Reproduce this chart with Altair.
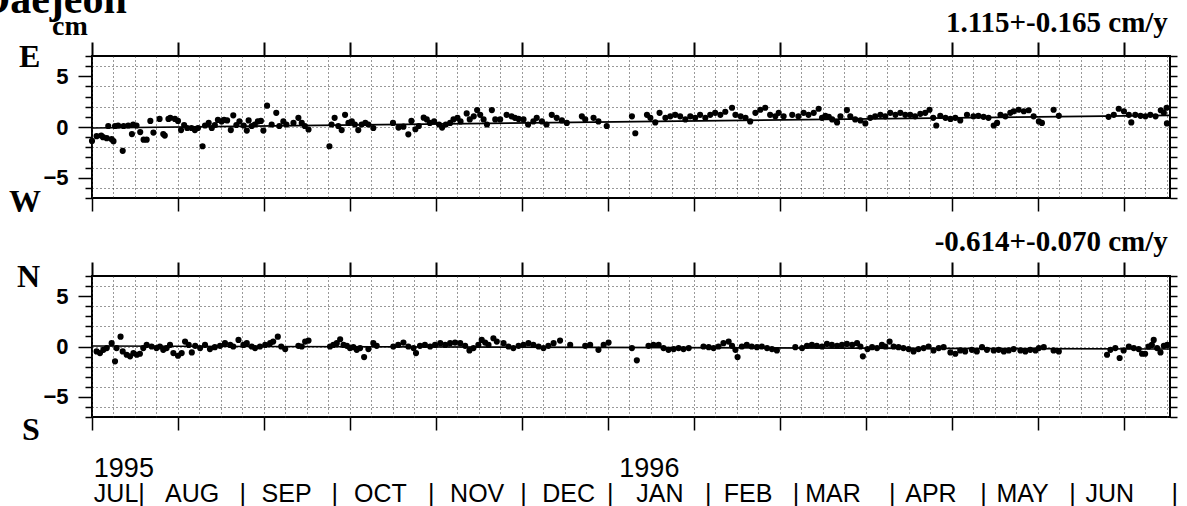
import altair as alt
import pandas as pd

# ---------------- data ----------------
# day = days since the left edge of the plot (mid July 1995)
days_e = [0, 1.5, 3, 3.6, 4.8, 5.3, 6.4, 7, 7.5, 8.5, 10, 10.3, 11.8, 13, 13.4, 14.5, 15.7, 16.8, 17.8, 19,
          20, 22, 23.2, 23.7, 24.9, 25.5, 27, 28, 29, 30, 31, 32.4, 33.5, 34.5, 36, 36.8, 38, 39, 40, 41,
          42.2, 43, 44, 45.2, 46, 47, 48, 49.4, 50.4, 51, 52, 53, 54, 55, 55.8, 57, 58.5, 60, 61, 62.3,
          63.3, 65.6, 67.2, 68.3, 69.3, 70.5, 77.3, 78, 79, 80.2, 81.3, 82.4, 83.5, 84.6, 85.6, 86.7, 87.8, 89, 90, 91.6,
          98, 99.8, 101.4, 103, 104, 105.3, 106.4, 108, 109, 110, 111.4, 113, 114, 115.2, 116.6, 117.7, 119, 120, 122, 123,
          124.3, 125.4, 126.4, 127.5, 128.6, 130.2, 131.3, 132.9, 135, 136.6, 137.7, 138.9, 140.5, 142, 143.7, 144.8, 146.5, 148, 149.7, 151.3,
          153, 154.6, 159.5, 160.6, 163.3, 164.9, 167.6, 175.8, 176.9, 180.7, 181.8, 183.4, 184.8, 186.7, 188.3, 189.9, 191.5, 193.2, 194.8, 196.4,
          198, 199.7, 201.3, 202.9, 204.6, 206.2, 208.4, 209.5, 211.2, 212.8, 214.3, 216, 217.6, 219.2, 220.8, 222.5, 223.6, 225.2, 228, 230,
          231.7, 233.3, 235, 236.6, 237.7, 238.8, 239.9, 241, 242.6, 243.7, 245.8, 246.9, 248.5, 250.2, 251.8, 253.4, 255, 256.7, 258.3, 259.9,
          261.6, 263.2, 264.8, 266.4, 268, 269.7, 271.3, 272.7, 273.9, 274.9, 276.2, 277.9, 279.5, 281.1, 282.7, 284.9, 287, 288.6, 290.3, 291.9,
          293.6, 294.7, 295.8, 297.4, 299, 300.1, 301.7, 303.4, 305, 306.6, 308.3, 309.3, 313.1, 314.8, 331, 332.7, 334.3, 336, 337.6, 338.4,
          339.7, 341.4, 343, 344.6, 346.3, 348, 349, 349.9, 350]
east = [-1.37, -0.9, -0.85, -1.0, -1.1, 0.1, -1.2, -1.4, 0.1, 0.15, -2.35, 0.1, 0.15, -0.7, 0.25, 0.15, -0.5, -1.25, -1.25, 0.6,
        -0.55, 0.8, -0.7, -0.85, 0.8, 0.9, 0.8, 0.6, -0.3, 0.2, -0.1, -0.1, -0.3, -0.1, -1.9, 0.15, 0.4, -0.1, 0.2, 0.7,
        0.55, 0.7, 0.65, -0.3, 1.15, 0.2, 0.55, 0.15, -0.35, 0.65, 0.1, 0.25, 0.55, 0.6, -0.35, 2.1, 0.25, 1.4, 0.1, 0.55,
        0.25, 0.4, 0.9, 0.4, 0.1, -0.25, -1.9, 0.25, 0.9, 0.1, -0.3, 1.2, 0.4, 0.55, 0.25, -0.3, 0.25, 0.4, 0.25, -0.1,
        0.4, -0.06, 0.03, -0.72, 0.6, -0.22, 0.1, 0.92, 0.75, 0.4, 0.55, 0.25, -0.06, 0.25, 0.4, 0.75, 0.9, 0.55, 1.34, 0.75,
        1.05, 1.67, 1.2, 0.75, 0.25, 1.67, 0.75, 0.75, 1.2, 1.05, 0.9, 0.8, 0.75, 0.25, 0.55, 0.9, 0.55, 0.25, 1.2, 0.9,
        0.65, 0.4, 1.05, 0.75, 0.9, 0.55, 0.1, 1.05, -0.62, 1.2, 0.9, 0.45, 1.4, 0.9, 1.05, 1.2, 1.05, 0.75, 1.05, 0.9,
        1.2, 0.9, 1.2, 1.4, 1.2, 1.5, 1.9, 1.2, 1.05, 0.9, 0.55, 1.4, 1.7, 1.9, 1.2, 1.05, 1.4, 1.05, 1.2, 1.05,
        1.4, 1.2, 1.4, 1.8, 0.9, 1.1, 1.0, 0.75, 0.45, 1.05, 1.67, 1.05, 0.75, 0.65, 0.35, 0.9, 1.05, 1.2, 1.05, 1.4,
        1.2, 1.4, 1.2, 1.2, 1.05, 1.3, 1.4, 1.7, 0.9, 0.15, 1.1, 0.9, 0.8, 0.9, 0.65, 1.2, 1.05, 1.1, 1.0, 0.9,
        0.15, 0.4, 1.2, 1.05, 1.4, 1.55, 1.7, 1.55, 1.65, 1.05, 0.55, 0.4, 1.7, 1.1, 1.0, 1.2, 1.8, 1.55, 1.2, 0.45,
        1.2, 1.1, 1.05, 1.2, 1.05, 1.65, 1.4, 1.9, 0.35]

days_n = [1.5, 2.6, 3.7, 4.8, 6.4, 7.5, 8, 9.3, 10, 11.3, 12.4, 13.5, 14.6, 15.6, 16.7, 17.8, 19.4, 21, 22.1, 23.2,
          24.3, 25.4, 26.5, 28, 29.2, 30.3, 31.5, 32.5, 33.6, 35.2, 36.8, 38.4, 40, 41.7, 43.3, 45, 46, 47.7, 49.3, 50.4,
          52, 53.1, 54.7, 56.4, 58, 59, 60.5, 61.6, 62.9, 67.2, 68.3, 69.4, 70.5, 77.5, 78.6, 79.7, 80.8, 81.9, 83, 84,
          85.1, 86.2, 87.3, 88.6, 90, 91.6, 92.7, 98.1, 99.7, 101.4, 103, 104.7, 105.5, 106.8, 108.4, 110.1, 111.7, 113.4, 115, 116.6,
          118.2, 119.9, 121.5, 122.9, 124.2, 125.8, 126.9, 128, 129.1, 130.7, 131.8, 134, 135.6, 137.2, 138.9, 140.5, 142.1, 143.7, 145.4, 147,
          148.6, 150.3, 152.4, 155.7, 160.6, 162.2, 164.9, 166.6, 168.2, 175.8, 177.4, 181.2, 182.8, 184.5, 186.1, 187.7, 189.4, 191, 192.6, 194.3,
          199.1, 200.8, 202.4, 204, 205.6, 207.3, 208.4, 209.5, 210.2, 211.6, 213.2, 214.8, 216.5, 218.1, 219.8, 221.4, 223, 229, 231.2, 232.8,
          234.4, 236, 237.7, 239.3, 240.9, 242.6, 244.2, 245.8, 247.5, 249.1, 250.2, 251, 252.5, 254, 255.6, 257.2, 258.3, 259.7, 261, 262.6,
          264.2, 265.9, 267.5, 269.1, 270.8, 272.4, 274, 275.7, 277.3, 279.5, 281.1, 282.7, 284.3, 286.5, 288.1, 289.8, 291.4, 293.6, 295.2, 296.9,
          298.5, 300.1, 302.3, 303.9, 305.5, 307.2, 308.3, 309.9, 313.1, 314.8, 330.5, 331.6, 333.2, 334.6, 335.9, 337.6, 339.2, 340.8, 341.9, 342.9,
          344, 345.1, 345.7, 346.8, 347.9, 349, 350.1]
north = [-0.49, -0.65, -0.33, -0.16, 0.33, -1.47, -0.16, 0.98, -0.49, -0.82, -0.98, -0.65, -0.82, -0.72, -0.16, 0.16, 0, -0.16, 0, -0.33,
         -0.16, 0.16, -0.65, -0.92, -0.65, 0.49, 0.16, -0.59, 0.07, -0.16, 0.16, -0.26, -0.07, 0.07, 0.33, 0.16, 0, 0.65, 0.16, 0.33,
         0, -0.16, 0, 0.16, 0.33, 0.49, 0.98, 0, -0.26, 0.07, 0, 0.49, 0.59, 0, 0.16, 0.33, 0.72, 0.16, 0.07, -0.16,
         -0.07, -0.33, -0.16, -1.05, -0.26, 0.33, 0.07, 0, 0.16, 0.39, 0, -0.16, -0.65, 0.07, 0.16, 0, 0.16, 0.33, 0.16, 0.33,
         0.39, 0.33, 0.07, -0.39, -0.16, 0.16, 0.65, 0.39, 0.16, 0.82, 0.49, 0.33, 0, -0.16, 0.07, 0.16, 0.33, 0.16, 0, -0.16,
         0.07, 0.33, 0.59, 0.16, 0.07, 0.16, -0.33, 0.16, 0.39, -0.16, -1.37, 0.07, 0.16, 0.16, -0.16, -0.33, -0.26, -0.16, -0.26, -0.16,
         0, -0.07, -0.16, 0, 0.33, 0.49, 0.07, -0.33, -1.05, 0, 0.16, 0, -0.07, 0, -0.16, -0.26, -0.39, -0.07, -0.16, 0.07,
         0.16, 0.07, 0, 0.26, 0.16, 0.07, 0.16, 0.26, 0.16, 0.33, 0, -0.98, -0.26, -0.07, -0.16, 0.16, 0, 0.49, 0, -0.07,
         -0.16, -0.26, -0.49, -0.26, -0.16, 0, -0.39, -0.16, -0.07, -0.59, -0.72, -0.39, -0.49, -0.33, -0.49, -0.07, -0.33, -0.39, -0.33, -0.49,
         -0.39, -0.26, -0.39, -0.49, -0.33, -0.39, -0.16, -0.07, -0.39, -0.49, -0.82, -0.33, -0.16, -1.14, -0.39, 0, -0.16, -0.26, -0.72, -0.72,
         0, 0.16, 0.65, -0.16, -0.59, 0.07, 0.16]

trend_days = [0, 351]
trend_e = [-0.1, 1.15]
trend_n = [0.05, -0.25]

major_days = [0, 28, 56, 84, 112, 140, 168, 196, 224, 252, 280, 308, 336]
grid_days = [0, 7, 14, 21, 28, 35, 42, 49, 56, 63, 70, 77, 84, 91, 98, 105, 112, 119, 126, 133, 140, 147,
             154, 161, 168, 175, 182, 189, 196, 203, 210, 217, 224, 231, 238, 245, 252, 259, 266, 273, 280,
             287, 294, 301, 308, 315, 322, 329, 336, 343, 350]
y_ticks = [-7, -6, -5, -4, -3, -2, -1, 0, 1, 2, 3, 4, 5, 6, 7]

month_text = ["JUL|", "AUG", "|", "SEP", "|", "OCT", "|", "NOV", "|", "DEC", "|", "JAN", "|", "FEB", "|",
              "MAR", "|", "APR", "|", "MAY", "|", "JUN", "|"]
month_day = [0.6, 23.8, 48.0, 55.2, 78.0, 85.3, 109.4, 116.6, 139.4, 146.6, 167.7, 177.2, 199.6, 205.7, 228.2,
             232.2, 259.5, 264.8, 289.2, 294.5, 318.2, 323.5, 351.5]
year_text = ["1995", "1996"]
year_day = [0.6, 171.7]

# annotation anchors, in axis units (day, cm)
top_note_text = ["Daejeon", "cm", "E", "W", "1.115+-0.165 cm/y"]
top_note_day = [-36.5, -13.0, -23.8, -27.0, 350.3]
top_note_cm = [11.24, 9.07, 5.92, -8.38, 9.37]
top_note_size = [42, 28, 32, 32, 29]
top_note_align = ["left", "left", "left", "left", "right"]
bot_note_text = ["N", "S", "-0.614+-0.070 cm/y"]
bot_note_day = [-24.4, -22.8, 350.3]
bot_note_cm = [5.91, -9.25, 9.48]
bot_note_size = [32, 32, 29]
bot_note_align = ["left", "left", "right"]
month_cm = -15.4
year_cm = -12.95

W, H1, H2 = 1078, 142, 141
SERIF = "Liberation Serif"
SANS = "Liberation Sans"
GRID = "#333333"

xs = alt.Scale(domain=[0, 351], nice=False, zero=False)
ys = alt.Scale(domain=[-7, 7], nice=False, zero=False)


def notes(texts, days, cms, sizes, aligns):
    df = pd.DataFrame({"t": texts, "day": days, "v": cms, "s": sizes, "a": aligns})
    layers = []
    for a in ["left", "right"]:
        sub = df[df["a"] == a]
        if len(sub) == 0:
            continue
        layers.append(
            alt.Chart(sub).mark_text(
                align=a, baseline="alphabetic", font=SERIF, fontWeight="bold", color="black"
            ).encode(
                x=alt.X("day:Q", scale=xs, axis=None),
                y=alt.Y("v:Q", scale=ys, axis=None),
                text="t:N",
                size=alt.Size("s:Q", scale=None, legend=None),
            )
        )
    return layers


def panel(days, vals, tvals, height, extra):
    pts = alt.Chart(pd.DataFrame({"day": days, "v": vals})).mark_circle(
        size=38, color="black", opacity=1
    ).encode(
        x=alt.X("day:Q", scale=xs, axis=alt.Axis(
            orient="bottom", values=grid_days, grid=True, gridDash=[1, 3], gridColor=GRID, gridWidth=1,
            tickSize=13, tickWidth=1.5, tickColor="black",
            tickOpacity={"condition": {"test": "datum.value % 28 === 0", "value": 1}, "value": 0},
            labels=False, domain=False, title=None)),
        y=alt.Y("v:Q", scale=ys, axis=alt.Axis(
            orient="left", values=y_ticks, grid=True, gridDash=[1, 3], gridColor=GRID, gridWidth=1,
            gridOpacity={"condition": {"test": "datum.value % 2 === 0", "value": 1}, "value": 0},
            tickSize={"condition": {"test": "datum.value % 5 === 0", "value": 14}, "value": 7},
            tickWidth=1.5, tickColor="black",
            labelExpr="datum.value % 5 === 0 ? datum.label : ''",
            labelFont=SANS, labelFontSize=22, labelFontWeight="bold", labelColor="black",
            labelPadding=10, domain=False, title=None)),
    )
    line = alt.Chart(pd.DataFrame({"day": trend_days, "v": tvals})).mark_line(
        color="black", strokeWidth=1.6
    ).encode(
        x=alt.X("day:Q", scale=xs, axis=alt.Axis(
            orient="top", values=major_days, grid=False, tickSize=14, tickWidth=2, tickColor="black",
            labels=False, domain=False, title=None)),
        y=alt.Y("v:Q", scale=ys, axis=alt.Axis(
            orient="right", values=y_ticks, grid=False, tickSize=7, tickWidth=1.5, tickColor="black",
            labels=False, domain=False, title=None)),
    )
    return alt.layer(pts, line, *extra).resolve_axis(
        x="independent", y="independent"
    ).properties(width=W, height=height)


months = alt.Chart(pd.DataFrame({"day": month_day, "t": month_text, "v": [month_cm] * len(month_day)})).mark_text(
    align="left", baseline="alphabetic", font=SANS, fontSize=25, color="black"
).encode(x=alt.X("day:Q", scale=xs, axis=None), y=alt.Y("v:Q", scale=ys, axis=None), text="t:N")
years = alt.Chart(pd.DataFrame({"day": year_day, "t": year_text, "v": [year_cm] * len(year_day)})).mark_text(
    align="left", baseline="alphabetic", font=SANS, fontSize=27, color="black"
).encode(x=alt.X("day:Q", scale=xs, axis=None), y=alt.Y("v:Q", scale=ys, axis=None), text="t:N")

top = panel(days_e, east, trend_e, H1,
            notes(top_note_text, top_note_day, top_note_cm, top_note_size, top_note_align))
bottom = panel(days_n, north, trend_n, H2,
               notes(bot_note_text, bot_note_day, bot_note_cm, bot_note_size, bot_note_align) + [months, years])

chart = alt.vconcat(top, bottom, spacing=8).properties(
    padding={"left": -22, "top": -23, "right": 0, "bottom": 0},
    background="white",
).configure_view(stroke="black", strokeWidth=2)

chart.save("out.html", embed_options={"renderer": "svg", "actions": False})
